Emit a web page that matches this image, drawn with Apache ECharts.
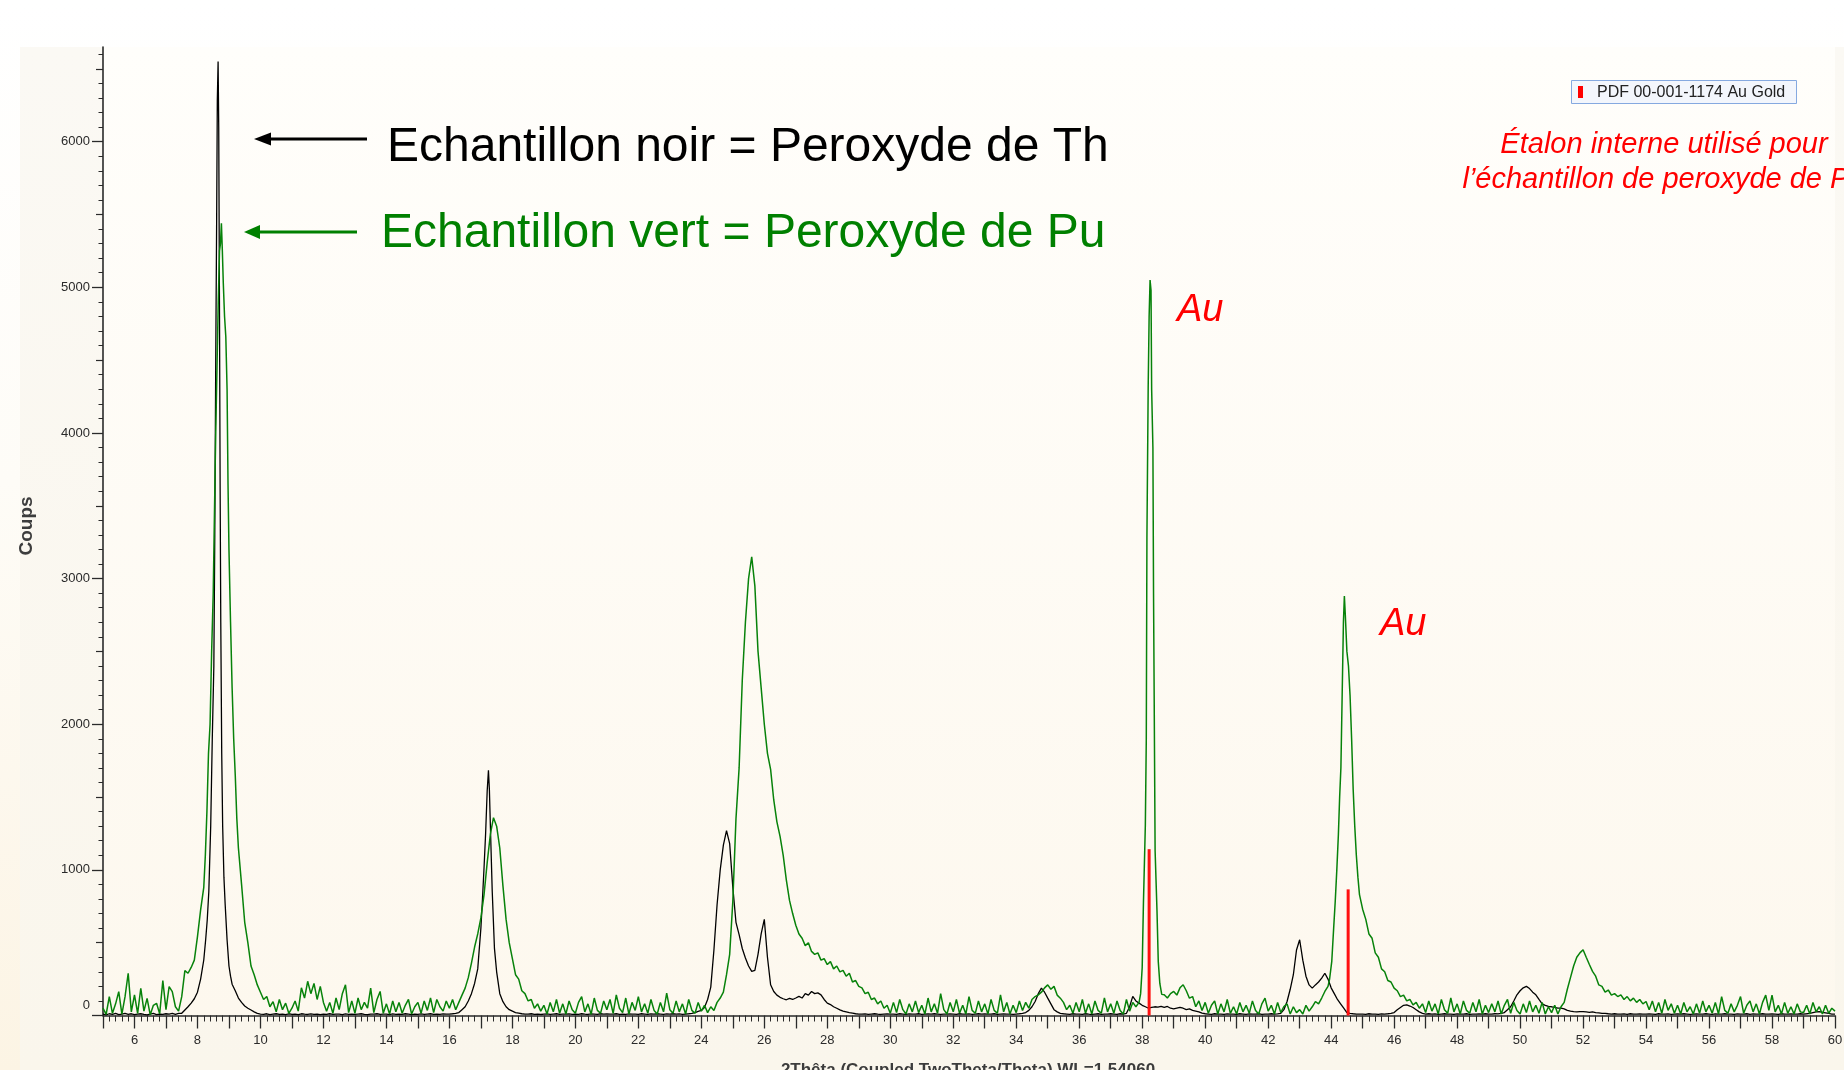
<!DOCTYPE html>
<html>
<head>
<meta charset="utf-8">
<script src="https://cdn.jsdelivr.net/npm/echarts@6/dist/echarts.min.js"></script>
<style>
  html, body { margin: 0; padding: 0; width: 1844px; height: 1070px; overflow: hidden;
    background: linear-gradient(180deg, #ffffff 0%, #fefcf7 45%, #fcf4e4 100%); }
  #panel { position: absolute; left: 20px; top: 47px; right: 0; bottom: 0;
    background: linear-gradient(180deg, #fbf9f4 0%, #faf6ec 100%); }
  #chart { position: absolute; left: 0; top: 0; width: 1844px; height: 1070px; }
</style>
</head>
<body>
<div id="panel"></div>
<div id="chart"></div>
<script>
// ---- Data ----
const angleStart = 5.0;   // 2Theta of the first sample
const angleStep = 0.1;    // sampling step of the grids below

// Green sample (Peroxyde de Pu), counts every 0.1 deg from 5.0 to 60.0
const vertGrid = [
  50, 8, 129, 15, 80, 164, 10, 129, 290, 25,
  141, 15, 187, 30, 118, 5, 70, 84, 12, 239,
  40, 198, 164, 60, 30, 129, 308, 290, 330, 380,
  541, 725, 880, 1400, 2000, 2900, 4000, 5250, 5200, 4300,
  2700, 1900, 1300, 1050, 900, 640, 500, 340, 280, 210,
  160, 110, 130, 60, 95, 25, 110, 40, 85, 15,
  50, 100, 30, 190, 120, 235, 150, 220, 110, 200,
  90, 30, 90, 15, 120, 40, 150, 211, 20, 100,
  15, 120, 40, 90, 50, 188, 20, 110, 165, 15,
  80, 10, 100, 25, 90, 15, 70, 110, 10, 60,
  90, 15, 100, 35, 120, 20, 110, 60, 30, 100,
  50, 110, 40, 90, 140, 188, 260, 360, 470, 560,
  670, 830, 1050, 1243, 1358, 1300, 1150, 890, 660, 500,
  390, 280, 250, 170, 150, 100, 110, 50, 80, 30,
  70, 10, 90, 25, 110, 15, 80, 10, 100, 40,
  15, 90, 130, 25, 80, 8, 120, 35, 15, 100,
  40, 110, 15, 142, 50, 20, 120, 10, 90, 35,
  130, 25, 80, 15, 110, 35, 10, 90, 25, 154,
  40, 15, 100, 25, 80, 10, 110, 35, 15, 90,
  30, 70, 20, 60, 35, 90, 120, 160, 280, 420,
  785, 1350, 1700, 2300, 2700, 3000, 3150, 2950, 2500, 2250,
  2000, 1800, 1690, 1480, 1330, 1230, 1100, 930, 790, 700,
  620, 560, 530, 480, 500, 440, 420, 430, 380, 390,
  350, 370, 320, 340, 300, 310, 270, 290, 230, 240,
  200, 190, 150, 160, 110, 120, 80, 100, 50, 70,
  15, 90, 20, 110, 40, 10, 80, 25, 100, 20,
  70, 10, 120, 25, 80, 15, 150, 40, 10, 90,
  25, 110, 15, 70, 10, 130, 35, 15, 100, 25,
  80, 10, 110, 35, 15, 142, 25, 90, 10, 70,
  20, 100, 35, 90, 50, 110, 130, 142, 160, 190,
  210, 180, 200, 140, 119, 90, 40, 70, 15, 90,
  25, 110, 15, 80, 10, 100, 35, 15, 120, 25,
  80, 15, 100, 35, 10, 110, 30, 90, 60, 90,
  330, 1310, 4800, 4300, 1130, 370, 145, 142, 120, 150,
  165, 140, 190, 211, 170, 119, 130, 60, 100, 35,
  90, 15, 70, 100, 10, 80, 25, 110, 15, 60,
  10, 90, 25, 70, 15, 100, 35, 10, 80, 119,
  30, 70, 10, 90, 20, 62, 80, 10, 60, 20,
  40, 10, 70, 30, 60, 96, 80, 120, 165, 250,
  330, 700, 1150, 1700, 2850, 2500, 1950, 1550, 1150, 830,
  730, 660, 560, 530, 430, 400, 320, 300, 240, 230,
  188, 170, 130, 140, 100, 110, 73, 90, 50, 80,
  20, 100, 30, 80, 10, 110, 40, 15, 120, 25,
  80, 10, 100, 35, 15, 90, 25, 110, 10, 70,
  20, 80, 25, 100, 10, 70, 110, 15, 90, 35,
  10, 80, 20, 100, 25, 70, 15, 90, 10, 60,
  20, 70, 10, 60, 90, 180, 260, 340, 400, 430,
  452, 400, 350, 303, 270, 210, 200, 160, 175, 140,
  150, 130, 142, 110, 130, 100, 119, 90, 110, 80,
  96, 40, 100, 25, 90, 15, 110, 35, 80, 15,
  70, 10, 90, 25, 60, 10, 80, 15, 100, 25,
  70, 15, 90, 10, 130, 35, 15, 80, 25, 70,
  130, 15, 70, 100, 25, 80, 10, 90, 140, 35,
  140, 25, 70, 10, 90, 15, 60, 10, 80, 25,
  20, 70, 10, 90, 25, 60, 10, 70, 15, 50,
  30
];

// Black sample (Peroxyde de Th), counts every 0.1 deg from 5.0 to 60.0
const noirGrid = [
  10, 5, 12, 8, 15, 6, 10, 14, 8, 12,
  6, 10, 12, 8, 5, 10, 14, 6, 10, 8,
  12, 10, 15, 8, 14, 15, 38, 60, 85, 115,
  160, 250, 381, 656, 1300, 2500, 5500, 3600, 950, 520,
  340, 210, 170, 120, 90, 65, 50, 38, 25, 15,
  10, 8, 12, 6, 10, 12, 8, 10, 6, 12,
  8, 10, 6, 12, 9, 7, 11, 8, 10, 6,
  10, 8, 12, 7, 10, 9, 6, 11, 8, 10,
  7, 10, 12, 8, 6, 10, 9, 12, 7, 10,
  9, 6, 11, 8, 10, 7, 12, 9, 6, 10,
  8, 11, 7, 10, 12, 8, 10, 7, 11, 9,
  10, 12, 15, 20, 40, 60, 100, 150, 220, 320,
  600, 1014, 1541, 1312, 463, 300, 150, 95, 60, 40,
  30, 20, 16, 12, 10, 9, 12, 8, 10, 7,
  9, 11, 8, 10, 12, 7, 10, 9, 11, 8,
  10, 8, 12, 9, 7, 11, 10, 8, 12, 9,
  11, 9, 10, 12, 8, 10, 7, 11, 9, 10,
  8, 12, 10, 7, 11, 9, 12, 10, 8, 11,
  10, 12, 9, 11, 8, 10, 12, 15, 20, 28,
  35, 55, 110, 195, 450, 760, 1000, 1170, 1270, 1180,
  880, 640, 555, 460, 395, 340, 303, 310, 420, 560,
  660, 400, 211, 165, 140, 125, 115, 108, 118, 110,
  120, 131, 120, 150, 140, 165, 150, 155, 142, 110,
  85, 75, 60, 50, 39, 30, 25, 20, 16, 12,
  10, 9, 11, 8, 10, 12, 9, 7, 10, 11,
  9, 10, 8, 12, 10, 7, 11, 9, 10, 12,
  8, 10, 11, 9, 12, 10, 8, 10, 9, 11,
  10, 8, 12, 9, 10, 11, 8, 10, 12, 9,
  11, 10, 9, 12, 8, 10, 11, 9, 10, 8,
  10, 12, 15, 20, 35, 60, 96, 150, 188, 160,
  119, 80, 40, 25, 15, 12, 10, 8, 12, 9,
  10, 8, 12, 9, 7, 10, 12, 8, 10, 9,
  12, 10, 8, 12, 10, 15, 60, 131, 100, 85,
  70, 60, 50, 55, 60, 58, 62, 55, 62, 50,
  45, 50, 55, 50, 40, 45, 35, 30, 25, 16,
  12, 10, 8, 12, 9, 10, 7, 11, 9, 10,
  8, 12, 10, 7, 11, 9, 10, 12, 8, 10,
  10, 12, 9, 11, 15, 40, 96, 180, 280, 450,
  520, 380, 270, 210, 188, 210, 230, 257, 290, 250,
  190, 150, 110, 80, 50, 20, 15, 12, 10, 9,
  10, 8, 12, 9, 10, 8, 11, 10, 12, 15,
  20, 40, 55, 70, 73, 65, 55, 40, 25, 15,
  10, 12, 9, 11, 8, 10, 12, 9, 10, 8,
  11, 9, 10, 12, 8, 10, 9, 11, 10, 12,
  10, 9, 12, 11, 15, 20, 40, 60, 100, 142,
  170, 190, 200, 185, 160, 142, 110, 80, 70, 62,
  60, 55, 50, 50, 45, 35, 30, 27, 25, 27,
  27, 25, 22, 25, 20, 18, 15, 15, 12, 10,
  12, 10, 9, 11, 8, 12, 10, 9, 11, 10,
  9, 11, 10, 8, 12, 10, 9, 11, 8, 10,
  11, 9, 12, 10, 8, 10, 11, 9, 10, 12,
  10, 8, 11, 9, 10, 12, 9, 10, 8, 11,
  9, 10, 12, 8, 11, 10, 9, 12, 10, 9,
  11, 10, 8, 12, 9, 10, 11, 9, 10, 12,
  10, 12, 15, 20, 25, 27, 22, 18, 14, 10,
  10
];

// Finer readings around the sharp peaks: [2Theta, counts]
const noirPic1 = [[8.2,381],[8.26,520],[8.31,656],[8.36,850],[8.42,1300],[8.47,1900],[8.52,2400],[8.55,3300],[8.58,4500],[8.61,5500],[8.63,6280],[8.655,6550],[8.675,6100],[8.7,4800],[8.72,3600],[8.74,2700],[8.77,1800],[8.8,1300],[8.84,950],[8.88,760],[8.94,520],[9.0,340],[9.05,270],[9.1,215]];
const noirPic2 = [[17.0,600],[17.05,800],[17.1,1014],[17.15,1250],[17.2,1541],[17.24,1684],[17.27,1550],[17.3,1312],[17.36,853],[17.43,463],[17.5,300]];
const vertPic1 = [[8.2,880],[8.25,1100],[8.3,1400],[8.35,1800],[8.4,2000],[8.45,2500],[8.5,2900],[8.55,3600],[8.58,4000],[8.62,4450],[8.66,4900],[8.7,5250],[8.73,5300],[8.76,5440],[8.79,5250],[8.82,5030],[8.86,4800],[8.9,4660],[8.94,4300],[8.97,3650],[9.0,3200],[9.05,2700],[9.1,2250],[9.15,1900],[9.2,1650],[9.25,1350],[9.3,1150]];
const vertAu1 = [[37.9,90],[37.95,150],[38.0,330],[38.04,780],[38.1,1310],[38.13,1900],[38.15,3280],[38.19,4310],[38.22,4800],[38.25,5050],[38.28,4980],[38.3,4300],[38.34,3900],[38.36,2900],[38.38,2200],[38.41,1130],[38.47,716],[38.51,372],[38.56,220],[38.62,145],[38.7,142]];
const vertAu2 = [[43.9,200],[43.95,250],[44.02,372],[44.08,600],[44.13,784],[44.18,1000],[44.23,1243],[44.27,1500],[44.31,1702],[44.35,2200],[44.39,2700],[44.42,2880],[44.45,2750],[44.5,2500],[44.55,2400],[44.6,2200],[44.65,1900],[44.7,1550],[44.75,1300],[44.8,1100],[44.85,950],[44.9,830],[44.95,780],[45.0,730]];

// Reference pattern PDF 00-001-1174 Au Gold (stick positions and heights)
const auAngles = [38.22, 44.54];
const auCounts = [1142, 866];

// Axis tick labels
const yLabelValues = [0, 1000, 2000, 3000, 4000, 5000, 6000];

// ---- Build ----
function buildSeries(grid, blocks) {
  const pts = [];
  grid.forEach((v, i) => {
    const x = +(angleStart + i * angleStep).toFixed(2);
    const inside = blocks.some(b => x >= b[0][0] - 1e-9 && x <= b[b.length - 1][0] + 1e-9);
    if (!inside) pts.push([x, v]);
  });
  blocks.forEach(b => b.forEach(p => pts.push(p)));
  pts.sort((a, b) => a[0] - b[0]);
  return pts;
}
const noirData = buildSeries(noirGrid, [noirPic1, noirPic2]);
const vertData = buildSeries(vertGrid, [vertPic1, vertAu1, vertAu2]);
const auData = auAngles.map((a, i) => [a, auCounts[i]]);

const half = [], minor = [];
for (let v = 0; v <= 6600; v += 500) if (v % 1000 !== 0) half.push(v);
for (let v = 0; v <= 6600; v += 100) if (v % 500 !== 0) minor.push(v);

const FONT = '"Liberation Sans", Arial, sans-serif';
const axisColor = '#2a2a2a';
const Y_MAX = 6650;

const chart = echarts.init(document.getElementById('chart'), null, { renderer: 'canvas' });
const yBase = { type: 'value', min: 0, max: Y_MAX, position: 'left', splitLine: { show: false } };

chart.setOption({
  animation: false,
  grid: {
    left: 103, right: 9, top: 47, bottom: 54.5,
    containLabel: false, outerBoundsMode: 'none',
    show: true, borderWidth: 0,
    backgroundColor: { type: 'linear', x: 0, y: 0, x2: 0, y2: 1,
      colorStops: [{ offset: 0, color: '#fffefb' }, { offset: 1, color: '#fdf8ee' }] }
  },
  xAxis: [{
    type: 'value', min: 5, max: 60, interval: 1,
    axisLine: { show: true, onZero: false, lineStyle: { color: axisColor, width: 1.6 } },
    axisTick: { show: true, length: 13, lineStyle: { color: axisColor, width: 1.3 } },
    minorTick: { show: true, splitNumber: 5, length: 6, lineStyle: { color: axisColor, width: 1 } },
    axisLabel: {
      margin: 18, fontSize: 13, fontFamily: FONT, color: '#2a2a2a',
      formatter: v => (Math.round(v) % 2 === 0 ? String(Math.round(v)) : '')
    },
    splitLine: { show: false }, minorSplitLine: { show: false }
  }],
  yAxis: [
    Object.assign({}, yBase, {
      interval: 1000,
      axisLine: { show: true, lineStyle: { color: axisColor, width: 1.6 } },
      axisTick: { show: true, length: 11, customValues: yLabelValues, lineStyle: { color: axisColor, width: 1.3 } },
      axisLabel: {
        customValues: yLabelValues, margin: 13, fontSize: 13, fontFamily: FONT, color: '#2a2a2a',
        formatter: v => (v === 0 ? '{z|0}' : String(v)),
        rich: { z: { fontSize: 13, fontFamily: FONT, color: '#2a2a2a', padding: [0, 0, 20, 0] } }
      }
    }),
    Object.assign({}, yBase, {
      interval: 500,
      axisLine: { show: false },
      axisTick: { show: true, length: 7, customValues: half, lineStyle: { color: axisColor, width: 1.2 } },
      axisLabel: { show: false }
    }),
    Object.assign({}, yBase, {
      interval: 100,
      axisLine: { show: false },
      axisTick: { show: true, length: 4.5, customValues: minor, lineStyle: { color: axisColor, width: 1 } },
      axisLabel: { show: false }
    })
  ],
  series: [
    {
      name: 'Echantillon noir', type: 'line', data: noirData, showSymbol: false, symbol: 'none',
      lineStyle: { color: '#000000', width: 1.3 }, z: 2, xAxisIndex: 0, yAxisIndex: 0
    },
    {
      name: 'Echantillon vert', type: 'line', data: vertData, showSymbol: false, symbol: 'none',
      lineStyle: { color: '#07820a', width: 1.5 }, z: 3, xAxisIndex: 0, yAxisIndex: 0
    },
    {
      name: 'PDF 00-001-1174 Au Gold', type: 'bar', data: auData, barWidth: 3,
      itemStyle: { color: '#ff1010' }, z: 4, xAxisIndex: 0, yAxisIndex: 0
    }
  ],
  graphic: [
    // annotations
    { type: 'line', shape: { x1: 367, y1: 139, x2: 266, y2: 139 }, style: { stroke: '#000', lineWidth: 3 }, z: 10 },
    { type: 'polygon', shape: { points: [[254, 139], [271, 132.5], [271, 145.5]] }, style: { fill: '#000' }, z: 10 },
    { type: 'line', shape: { x1: 357, y1: 232, x2: 256, y2: 232 }, style: { stroke: '#008000', lineWidth: 3 }, z: 10 },
    { type: 'polygon', shape: { points: [[244, 232], [260, 225], [260, 239]] }, style: { fill: '#008000' }, z: 10 },
    { type: 'text', x: 387, y: 148, z: 10,
      style: { text: 'Echantillon noir = Peroxyde de Th', fontSize: 48, fontFamily: FONT, fill: '#000', align: 'left', verticalAlign: 'middle' } },
    { type: 'text', x: 381, y: 234, z: 10,
      style: { text: 'Echantillon vert = Peroxyde de Pu', fontSize: 48, fontFamily: FONT, fill: '#008000', align: 'left', verticalAlign: 'middle' } },
    { type: 'text', x: 1177, y: 310, z: 10,
      style: { text: 'Au', fontSize: 38, fontStyle: 'italic', fontFamily: FONT, fill: '#ff0000', align: 'left', verticalAlign: 'middle' } },
    { type: 'text', x: 1380, y: 624, z: 10,
      style: { text: 'Au', fontSize: 38, fontStyle: 'italic', fontFamily: FONT, fill: '#ff0000', align: 'left', verticalAlign: 'middle' } },
    { type: 'text', x: 1664, y: 145, z: 10,
      style: { text: 'Étalon interne utilisé pour', fontSize: 29, fontStyle: 'italic', fontFamily: FONT, fill: '#ff0000', align: 'center', verticalAlign: 'middle' } },
    { type: 'text', x: 1664, y: 180, z: 10,
      style: { text: 'l’échantillon de peroxyde de Pu', fontSize: 29, fontStyle: 'italic', fontFamily: FONT, fill: '#ff0000', align: 'center', verticalAlign: 'middle' } },
    // legend box
    { type: 'rect', shape: { x: 1571.5, y: 80.5, width: 225, height: 23 }, style: { fill: '#f3f6fc', stroke: '#85a9e0', lineWidth: 1 }, z: 10 },
    { type: 'rect', shape: { x: 1578, y: 86, width: 5, height: 12 }, style: { fill: '#ff0000' }, z: 11 },
    { type: 'text', x: 1597, y: 93, z: 11,
      style: { text: 'PDF 00-001-1174 Au Gold', fontSize: 16, fontFamily: FONT, fill: '#222', align: 'left', verticalAlign: 'middle' } },
    // axis titles
    { type: 'text', x: 27, y: 526, rotation: Math.PI / 2, z: 10,
      style: { text: 'Coups', fontSize: 19, fontWeight: 'bold', fontFamily: FONT, fill: '#3c3c3c', align: 'center', verticalAlign: 'middle' } },
    { type: 'text', x: 968, y: 1070, z: 10,
      style: { text: '2Thêta (Coupled TwoTheta/Theta) WL=1.54060', fontSize: 17, fontWeight: 'bold', fontFamily: FONT, fill: '#3c3c3c', align: 'center', verticalAlign: 'middle' } }
  ]
});
</script>
</body>
</html>
